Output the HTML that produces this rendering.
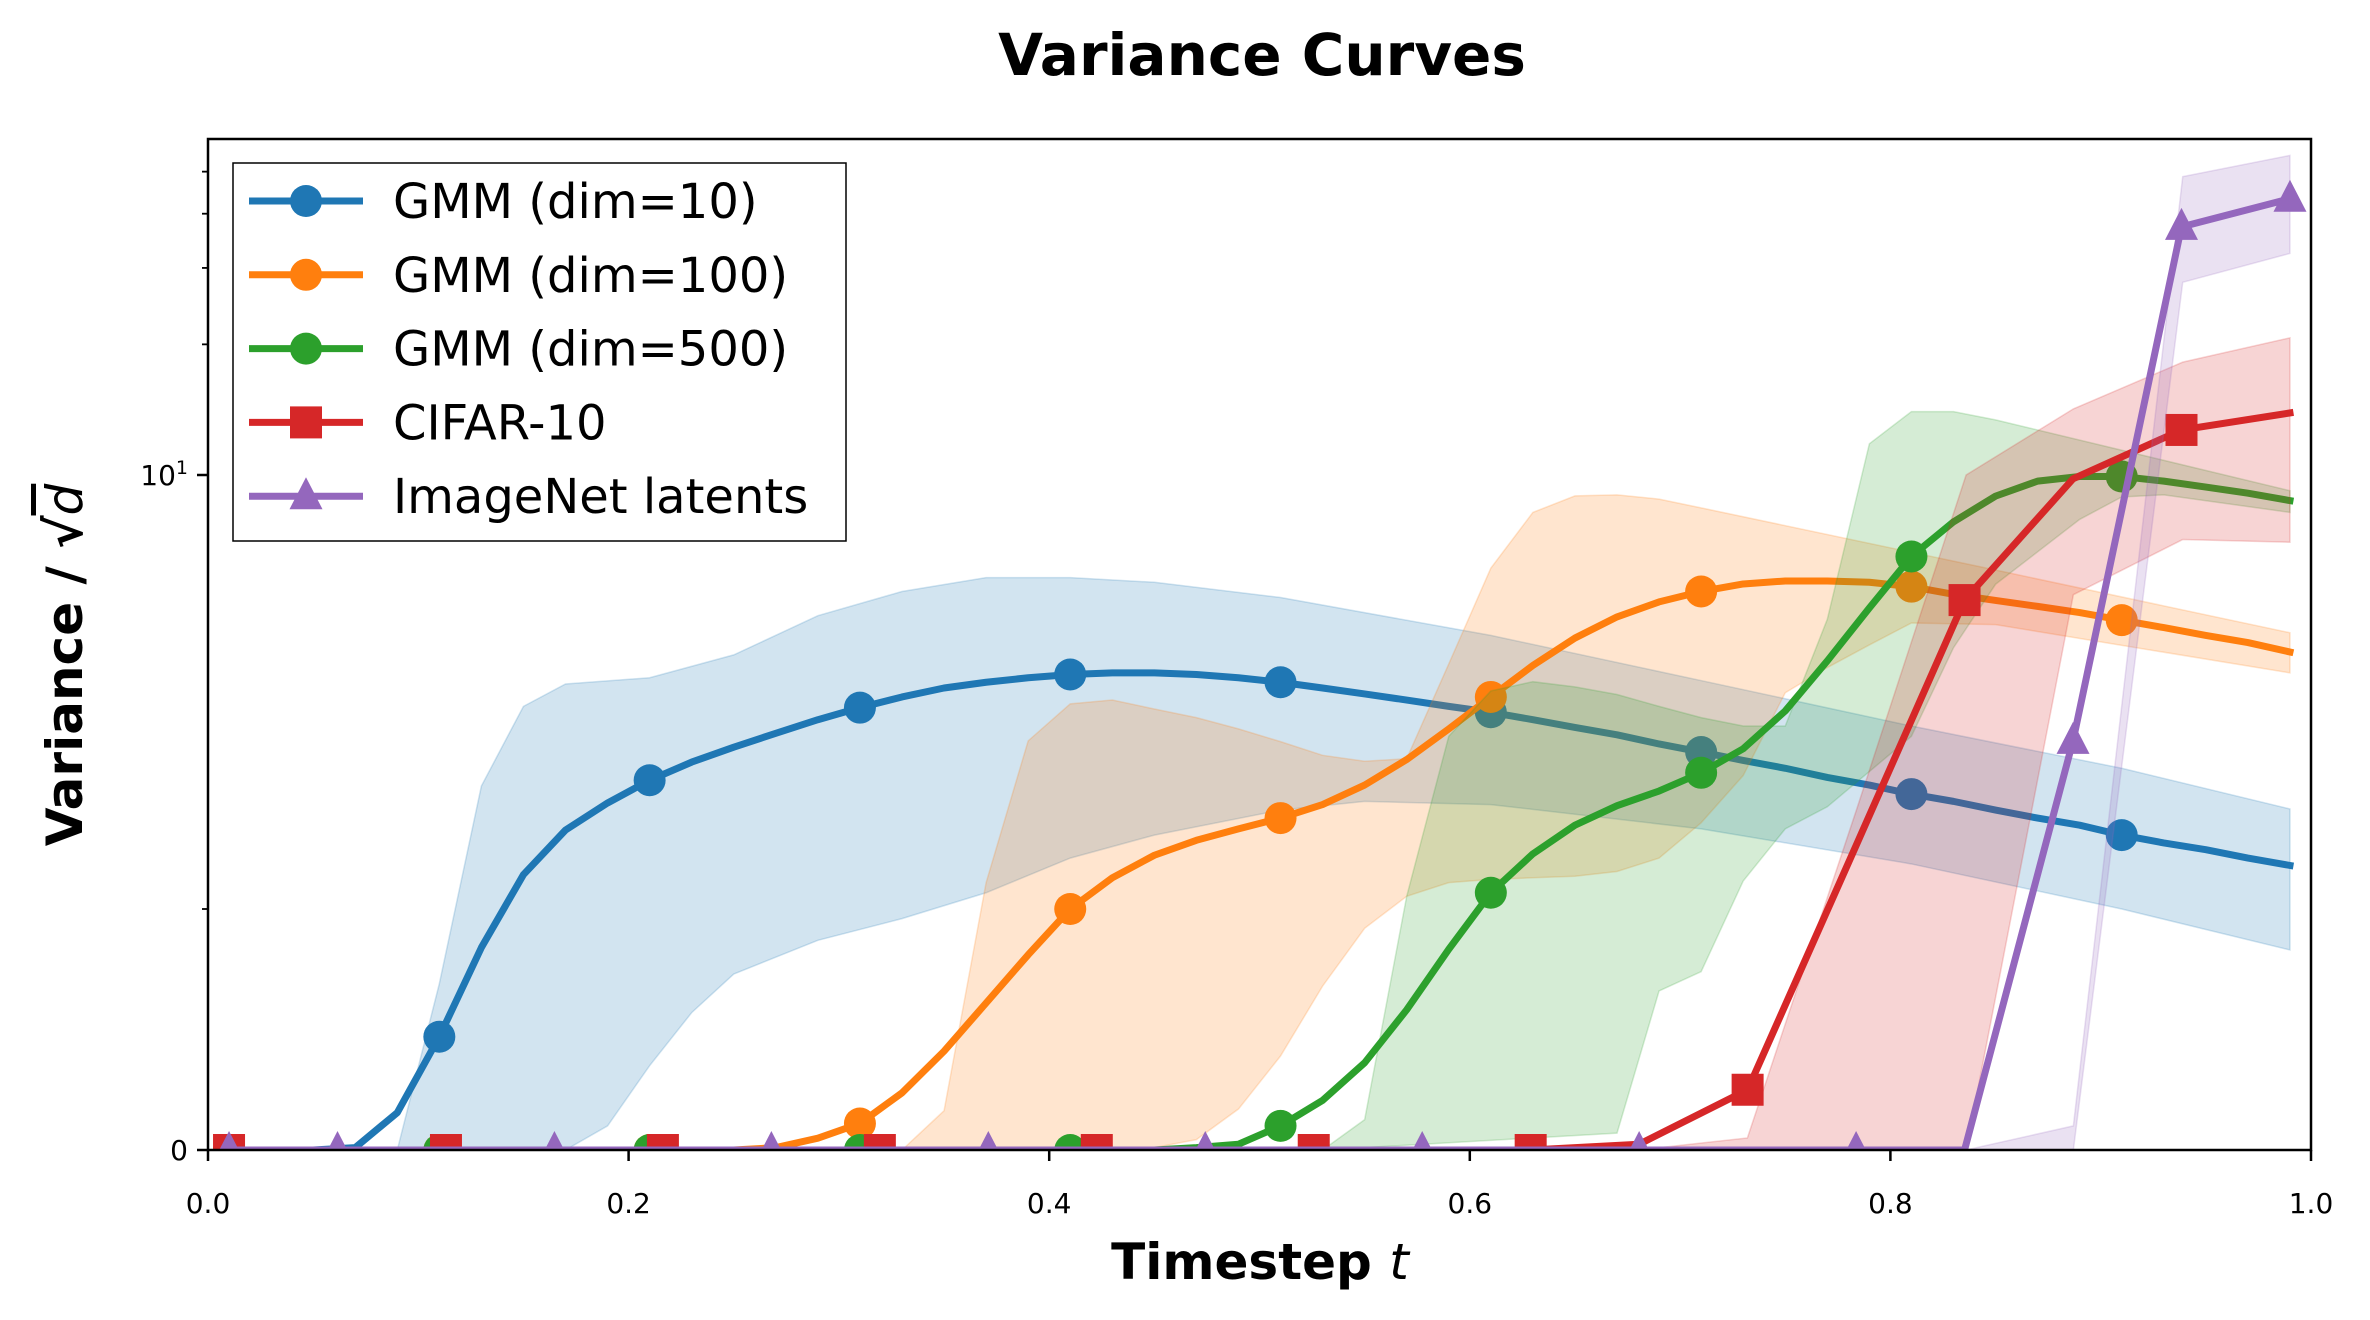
<!DOCTYPE html>
<html><head><meta charset="utf-8"><style>
html,body{margin:0;padding:0;background:#fff;}
svg{display:block;font-family:"DejaVu Sans","Liberation Sans",sans-serif;}
</style></head><body>
<svg id="chart" width="2370" height="1320" viewBox="0 0 2370 1320" xmlns="http://www.w3.org/2000/svg">
<rect width="2370" height="1320" fill="#fff"/>
<defs><clipPath id="plotclip"><rect x="208" y="139" width="2103" height="1011"/></clipPath></defs>
<text x="1262" y="75" text-anchor="middle" font-size="58" font-weight="bold">Variance Curves</text>
<g id="plot" clip-path="url(#plotclip)"></g>
<g id="axes"></g>
<text x="1260" y="1279" text-anchor="middle" font-size="50" font-weight="bold">Timestep <tspan font-style="italic" font-weight="normal">t</tspan></text>
<g transform="translate(82,665) rotate(-90)">
<text x="0" y="0" text-anchor="middle" font-size="50" font-weight="bold">Variance / √<tspan font-style="italic" font-weight="normal" text-decoration="overline">d</tspan></text>
</g>
<g id="legend"></g>
</svg>
<script>
// ---- data ----
const tGrid50 = Array.from({length:50},(_,i)=>+(0.01+0.02*i).toFixed(2));
const tGrid20 = Array.from({length:20},(_,i)=>0.01+i*0.98/19);
const gmm10 = [0,0,0,0.01,0.155,0.47,0.84,1.20,1.52,1.755,1.98,2.18,2.36,2.54,2.73,2.91,3.08,3.23,3.33,3.41,3.47,3.50,3.50,3.47,3.41,3.33,3.23,3.13,3.03,2.93,2.84,2.73,2.62,2.52,2.40,2.30,2.20,2.11,2.01,1.93,1.84,1.77,1.69,1.62,1.56,1.48,1.42,1.37,1.31,1.26];
const gmm100 = [0,0,0,0,0,0,0,0,0,0,0,0,0,0.01,0.049,0.11,0.237,0.41,0.61,0.81,1.0,1.18,1.33,1.44,1.53,1.62,1.74,1.93,2.21,2.60,3.08,3.64,4.21,4.71,5.10,5.39,5.61,5.70,5.70,5.66,5.53,5.31,5.14,4.98,4.82,4.63,4.45,4.27,4.11,3.91];
const gmm500 = [0,0,0,0,0,0,0,0,0,0,0,0,0,0,0,0,0,0,0,0,0,0,0,0.01,0.024,0.10,0.206,0.362,0.582,0.833,1.09,1.34,1.56,1.73,1.87,2.06,2.34,2.86,3.73,4.94,6.49,7.80,8.94,9.68,9.92,9.92,9.68,9.38,9.08,8.73];
const cifar = [0,0,0,0,0,0,0,0,0,0,0,0,0,0.024,0.25,1.40,5.15,9.8,12.7,13.9];
const imagenet = [0,0,0,0,0,0,0,0,0,0,0,0,0,0,0,0,0,2.44,37.3,43.3];
const gmmMarkIdx = [0,5,10,15,20,25,30,35,40,45];
const cifarMarkIdx = [0,2,4,6,8,10,12,14,16,18];
const imagenetMarkIdx = [0,1,3,5,7,9,11,13,15,17,18,19];
// bands (t, value)
const band10T = [0.01,0.09,0.11,0.13,0.15,0.17,0.21,0.25,0.29,0.33,0.37,0.41,0.45,0.51,0.61,0.71,0.81,0.91,0.99];
const band10Hi = [0,0,0.69,1.92,2.93,3.30,3.41,3.85,4.74,5.39,5.80,5.80,5.66,5.22,4.27,3.36,2.64,2.11,1.70];
const band10LoT = [0.01,0.17,0.19,0.21,0.23,0.25,0.29,0.33,0.37,0.41,0.45,0.51,0.55,0.61,0.71,0.81,0.91,0.99];
const band10Lo = [0,0,0.1,0.35,0.57,0.73,0.87,0.96,1.09,1.31,1.48,1.69,1.77,1.74,1.53,1.27,1.0,0.83];
const band100HiT = [0.31,0.33,0.35,0.37,0.39,0.41,0.43,0.45,0.47,0.49,0.51,0.53,0.55,0.57,0.59,0.61,0.63,0.65,0.67,0.69,0.71,0.85,0.99];
const band100Hi = [0,0,0.163,1.15,2.44,2.97,3.03,2.89,2.76,2.6,2.43,2.26,2.19,2.22,3.67,6.1,8.2,8.95,9.0,8.8,8.4,6.04,4.33];
const band100LoT = [0.31,0.45,0.47,0.49,0.51,0.53,0.55,0.57,0.59,0.61,0.63,0.65,0.67,0.69,0.71,0.73,0.75,0.77,0.79,0.81,0.85,0.99];
const band100Lo = [0,0.01,0.043,0.17,0.39,0.68,0.92,1.07,1.15,1.17,1.18,1.19,1.22,1.31,1.58,2.03,3.15,3.6,4.06,4.56,4.52,3.5];
const band500HiT = [0.53,0.55,0.57,0.59,0.61,0.63,0.65,0.67,0.69,0.71,0.73,0.75,0.77,0.79,0.81,0.83,0.85,0.99];
const band500Hi = [0,0.126,1.07,2.5,3.18,3.34,3.25,3.12,2.93,2.76,2.64,2.64,4.65,11.8,14.0,14.0,13.4,9.2];
const band500LoT = [0.53,0.67,0.69,0.71,0.73,0.75,0.77,0.81,0.83,0.85,0.89,0.91,0.93,0.99];
const band500Lo = [0,0.07,0.66,0.74,1.16,1.53,1.72,2.5,4.0,5.6,7.9,8.9,9.0,8.2];
const bandCifarT = [0.68,0.732,0.784,0.836,0.887,0.939,0.99];
const bandCifarHi = [0,0.05,1.7,10,14.2,18.2,20.7];
const bandCifarLo = [0,0,0,0,5.3,7.1,7.0];
const bandImgT = [0.836,0.887,0.939,0.99];
const bandImgHi = [0,0.1,48.7,54.5];
const bandImgLo = [0,0,27.8,32.4];
const xTicks = [0,0.2,0.4,0.6,0.8,1.0];
const xTickLabels = ["0.0","0.2","0.4","0.6","0.8","1.0"];
const yMinorTicks = [1,20,30,40,50];

// ---- scales ----
const X0=208, X1=2311, Y0=1150, Y1=909, DEC=434;
function xs(t){return X0+t*(X1-X0);}
function ys(v){return v<=1 ? Y0-(Y0-Y1)*v : Y1-DEC*Math.log10(v);}
const NS="http://www.w3.org/2000/svg";
function mk(tag,attrs,parent){const e=document.createElementNS(NS,tag);for(const k in attrs)e.setAttribute(k,attrs[k]);parent.appendChild(e);return e;}
const plot=document.getElementById('plot'), axes=document.getElementById('axes'), legend=document.getElementById('legend');

function band(tH,hi,tL,lo,color,name){
  const pts=tH.map((t,i)=>xs(t)+','+ys(hi[i]));
  for(let i=tL.length-1;i>=0;i--)pts.push(xs(tL[i])+','+ys(lo[i]));
  const p=mk('polygon',{points:pts.join(' '),fill:color,'fill-opacity':0.2,stroke:color,'stroke-opacity':0.2,'stroke-width':1.5},plot);
  
  
}
function marker(g,type,x,y,color){
  let m;
  if(type==='o') m=mk('circle',{cx:x,cy:y,r:16,fill:color},g);
  else if(type==='s') m=mk('rect',{x:x-16,y:y-16,width:32,height:32,fill:color},g);
  else m=mk('polygon',{points:`${x},${y-19} ${x-16.5},${y+13} ${x+16.5},${y+13}`,fill:color},g);
  return m;
}
function series(ts,vals,marks,type,color,name){
  const g=mk('g',{},plot);
  
  
  const line=mk('polyline',{points:ts.map((t,i)=>xs(t)+','+ys(vals[i])).join(' '),fill:'none',stroke:color,'stroke-width':7,'stroke-linejoin':'round','stroke-linecap':'square'},g);
  
  
  marks.forEach(i=>{
    const m=marker(g,type,xs(ts[i]),ys(vals[i]),color);
    
    
  });
}
const C=['#1f77b4','#ff7f0e','#2ca02c','#d62728','#9467bd'];
band(band10T,band10Hi,band10LoT,band10Lo,C[0],'gmm10-band');
series(tGrid50,gmm10,gmmMarkIdx,'o',C[0],'gmm10-series');
band(band100HiT,band100Hi,band100LoT,band100Lo,C[1],'gmm100-band');
series(tGrid50,gmm100,gmmMarkIdx,'o',C[1],'gmm100-series');
band(band500HiT,band500Hi,band500LoT,band500Lo,C[2],'gmm500-band');
series(tGrid50,gmm500,gmmMarkIdx,'o',C[2],'gmm500-series');
band(bandCifarT,bandCifarHi,bandCifarT,bandCifarLo,C[3],'cifar-band');
series(tGrid20,cifar,cifarMarkIdx,'s',C[3],'cifar-series');
band(bandImgT,bandImgHi,bandImgT,bandImgLo,C[4],'imagenet-band');
series(tGrid20,imagenet,imagenetMarkIdx,'^',C[4],'imagenet-series');

// ---- axes ----
const frame=mk('rect',{x:X0,y:139,width:X1-X0,height:Y0-139,fill:'none',stroke:'#000','stroke-width':2.5},axes);


xTicks.forEach((t,i)=>{
  const l=mk('line',{x1:xs(t),x2:xs(t),y1:Y0,y2:Y0+11,stroke:'#000','stroke-width':2.5},axes);
  
  
  const tx=mk('text',{x:xs(t),y:1213,'text-anchor':'middle','font-size':28},axes);
  tx.textContent=xTickLabels[i];
  
  
});
[[0,'0'],[10,'10']].forEach(([v,lab])=>{
  const l=mk('line',{x1:X0-11,x2:X0,y1:ys(v),y2:ys(v),stroke:'#000','stroke-width':2.5},axes);
  
  
  const tx=mk('text',{x:X0-20,y:ys(v)+10,'text-anchor':'end','font-size':28},axes);
  
  
  if(lab==='10'){tx.textContent='10';const s=mk('tspan',{dy:-11,'font-size':19},tx);s.textContent='1';}
  else tx.textContent=lab;
});
yMinorTicks.forEach(v=>{
  const l=mk('line',{x1:X0-6,x2:X0,y1:ys(v),y2:ys(v),stroke:'#000','stroke-width':1.8},axes);
  
  
});

// ---- legend ----
const lbox=mk('rect',{x:233,y:163,width:613,height:378,fill:'#fff','fill-opacity':0.8,stroke:'#000','stroke-width':1.5},legend);


const labels=['GMM (dim=10)','GMM (dim=100)','GMM (dim=500)','CIFAR-10','ImageNet latents'];
const types=['o','o','o','s','^'];
labels.forEach((lab,i)=>{
  const y=201+i*73.8;
  const g=mk('g',{},legend);
  
  
  mk('line',{x1:249,x2:363,y1:y,y2:y,stroke:C[i],'stroke-width':7},g);
  marker(g,types[i],306,y,C[i]);
  const t=mk('text',{x:393,y:y+17,'font-size':48},g);
  t.textContent=lab;
});
</script>
</body></html>
